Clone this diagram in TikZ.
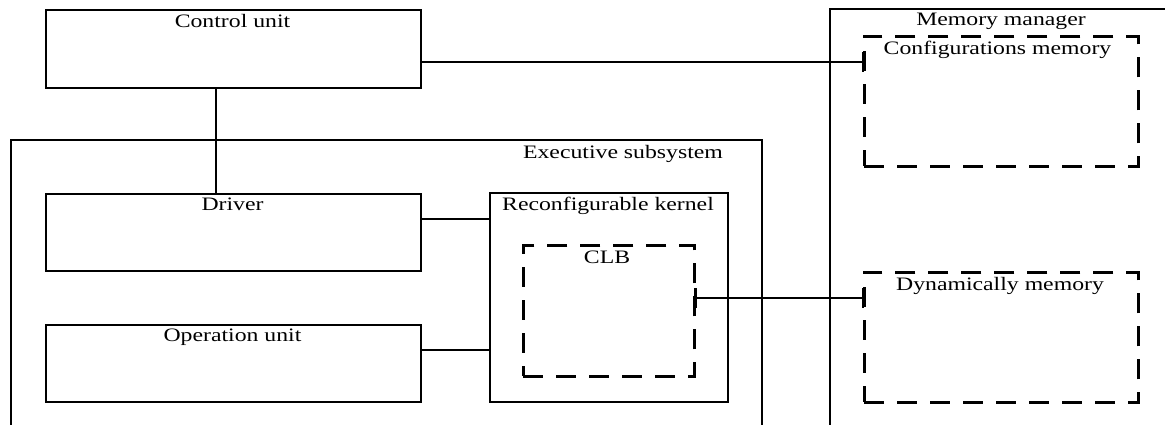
\documentclass[tikz,border=0pt]{standalone}
\usepackage{fontspec}
\setmainfont{Liberation Serif}
\newcommand{\lblfont}{\fontsize{19}{22}\selectfont}
\tikzset{
  box/.style={draw, line width=2.4pt, rectangle, inner sep=0pt, anchor=north west},
  dbox/.style={box, line width=2.6pt, dash pattern=on 20pt off 13pt},
  wire/.style={line width=2.2pt},
  lbl/.style={font=\lblfont, inner sep=0pt, anchor=base, xscale=1.25, transform shape},
}
% short vertical bar closing a connector at the given coordinate
\newcommand{\wirebar}[1]{\draw[line width=2.4pt] ([yshift=10pt]#1) -- ([yshift=-10pt]#1);}
\begin{document}
\begin{tikzpicture}[x=1pt, y=-1pt]
\useasboundingbox (0,0) rectangle (1165,425);

% open containers running past the lower edge
\coordinate (exTL) at (11,140);
\coordinate (exTR) at (762,140);
\draw[wire] (11,440) -- (exTL) -- (exTR) -- (762,440);
\coordinate (mmTL) at (830,9);
\draw[wire] (830,440) -- (mmTL) -- (1175,9);

% solid blocks
\node[box, minimum width=375pt, minimum height=78pt] (cu) at (45,9) {};
\node[box, minimum width=375pt, minimum height=77pt] (drv) at (45,193) {};
\node[box, minimum width=375pt, minimum height=77pt] (op) at (45,324) {};
\node[box, minimum width=238pt, minimum height=209pt] (rk) at (489,192) {};

% dashed blocks
\node[dbox, minimum width=171pt, minimum height=131pt] (clb) at (522,244) {};
\node[dbox, minimum width=274pt, minimum height=130pt] (cfg) at (863,35) {};
\node[dbox, minimum width=274pt, minimum height=130pt] (dyn) at (863,271) {};

% labels
\node[lbl] (tcu) at (232.5,28) {Control unit};
\node[lbl] (tdrv) at (232.5,211) {Driver};
\node[lbl] (top) at (232.5,341) {Operation unit};
\node[lbl] (tex) at (623,159) {Executive subsystem};
\node[lbl] (trk) at (608,211) {Reconfigurable kernel};
\node[lbl] (tclb) at (607,263) {CLB};
\node[lbl] (tmm) at (1001,26) {Memory manager};
\node[lbl] (tcfg) at (997.5,55) {Configurations memory};
\node[lbl] (tdyn) at (1000,290) {Dynamically memory};

% connectors
\draw[wire] ([xshift=171pt]cu.south west) -- ([xshift=171pt]drv.north west);
\coordinate (a1) at ([yshift=-13pt]cu.east);
\coordinate (b1) at (a1 -| cfg.west);
\draw[wire] (a1) -- (b1);
\wirebar{b1}
\coordinate (a2) at ([yshift=13.5pt]drv.east);
\draw[wire] (a2) -- (a2 -| rk.west);
\coordinate (a3) at ([yshift=13.5pt]op.east);
\draw[wire] (a3) -- (a3 -| rk.west);
\coordinate (a4) at ([yshift=12.5pt]clb.east);
\coordinate (b4) at (a4 -| dyn.west);
\draw[wire] (a4) -- (b4);
\wirebar{a4}
\wirebar{b4}
\end{tikzpicture}
\end{document}
